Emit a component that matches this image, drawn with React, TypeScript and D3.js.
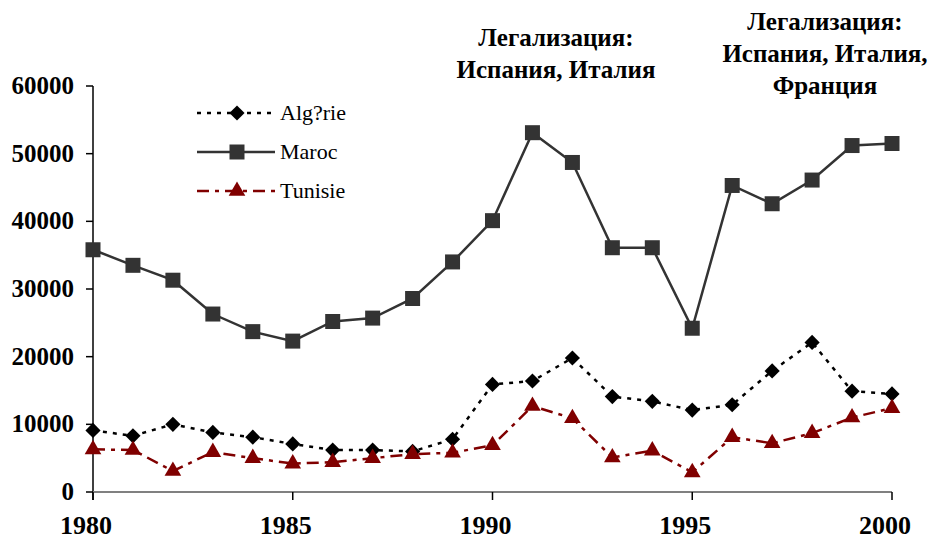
import React from "react";
import * as d3 from "d3";

const years = d3.range(1980, 2001);
const algerie = [9100, 8300, 10000, 8800, 8100, 7100, 6200, 6200, 6000, 7800, 15900, 16400, 19800, 14100, 13400, 12100, 12900, 17900, 22100, 14900, 14500];
const maroc = [35800, 33500, 31300, 26300, 23700, 22300, 25200, 25700, 28600, 34000, 40100, 53100, 48700, 36100, 36100, 24200, 45300, 42600, 46100, 51200, 51500];
const tunisie = [6300, 6200, 3100, 5900, 5000, 4200, 4400, 5000, 5600, 5800, 6900, 12700, 10900, 5100, 6100, 2900, 8100, 7200, 8700, 11000, 12400];
const yTicks = [0, 10000, 20000, 30000, 40000, 50000, 60000];
const xTicks = [1980, 1985, 1990, 1995, 2000];
const seriesNames = ["Alg?rie", "Maroc", "Tunisie"];

const W = 930;
const H = 540;
const FONT = "Liberation Serif";

const x = d3.scaleLinear().domain([1980, 2000]).range([93, 892]);
const y = d3.scaleLinear().domain([0, 60000]).range([492, 86]);

const series = [
  { name: seriesNames[0], values: algerie, color: "#000", dash: "4,6", shape: "diamond" },
  { name: seriesNames[1], values: maroc, color: "#333", dash: null, shape: "square" },
  { name: seriesNames[2], values: tunisie, color: "#800000", dash: "12,6,4,6", shape: "triangle" },
];

const symbolPath = (shape: string) => {
  if (shape === "square") return d3.symbol(d3.symbolSquare, 225)()!;
  if (shape === "diamond") return d3.symbol(d3.symbolSquare, 115)()!;
  return d3.symbol(d3.symbolTriangle, 120)()!;
};

const Marker = ({ shape, color, cx, cy }: { shape: string; color: string; cx: number; cy: number }) => (
  <path
    d={symbolPath(shape)}
    fill={color}
    transform={`translate(${cx},${cy})${shape === "diamond" ? " rotate(45)" : ""}`}
  />
);

const txt = { fontFamily: FONT };

export default function App() {
  const line = d3
    .line<number>()
    .x((_, i) => x(years[i]))
    .y((d) => y(d));

  return (
    <svg width={W} height={H} style={{ position: "absolute", left: 0, top: 0, background: "#fff" }}>
      {/* y axis */}
      <line x1={93} x2={93} y1={y(60000)} y2={500} stroke="#000" strokeWidth={1.5} />
      {yTicks.map((t) => (
        <g key={t}>
          <line x1={86} x2={93} y1={y(t)} y2={y(t)} stroke="#000" strokeWidth={1.5} />
          <text x={74} y={y(t) + 8} textAnchor="end" fontWeight="bold" fontSize={25} style={txt}>
            {t}
          </text>
        </g>
      ))}
      {/* x axis */}
      <line x1={x(1980)} x2={x(2000)} y1={y(0)} y2={y(0)} stroke="#808080" strokeWidth={2} />
      {xTicks.map((t) => (
        <g key={t}>
          <line x1={x(t)} x2={x(t)} y1={y(0)} y2={500} stroke="#000" strokeWidth={1.5} />
          <text x={x(t) - 7} y={534} textAnchor="middle" fontWeight="bold" fontSize={26} style={txt}>
            {t}
          </text>
        </g>
      ))}

      {/* series */}
      {series.map((s) => (
        <g key={s.name}>
          <path
            d={line(s.values)!}
            fill="none"
            stroke={s.color}
            strokeWidth={2.5}
            strokeDasharray={s.dash ?? undefined}
          />
          {s.values.map((v, i) => (
            <Marker key={i} shape={s.shape} color={s.color} cx={x(years[i])} cy={y(v)} />
          ))}
        </g>
      ))}

      {/* legend */}
      {series.map((s, i) => {
        const ly = 113 + i * 39;
        return (
          <g key={s.name}>
            <line x1={197} x2={275} y1={ly} y2={ly} stroke={s.color} strokeWidth={2.5} strokeDasharray={s.dash ?? undefined} />
            <Marker shape={s.shape} color={s.color} cx={237} cy={ly} />
            <text x={280} y={ly + 7} fontSize={22} style={txt}>
              {s.name}
            </text>
          </g>
        );
      })}

      {/* annotations */}
      <g fontWeight="bold" fontSize={25} textAnchor="middle" style={txt}>
        <text x={556} y={46}>Легализация:</text>
        <text x={556} y={78}>Испания, Италия</text>
        <text x={825} y={30}>Легализация:</text>
        <text x={825} y={62}>Испания, Италия,</text>
        <text x={825} y={94}>Франция</text>
      </g>
    </svg>
  );
}
